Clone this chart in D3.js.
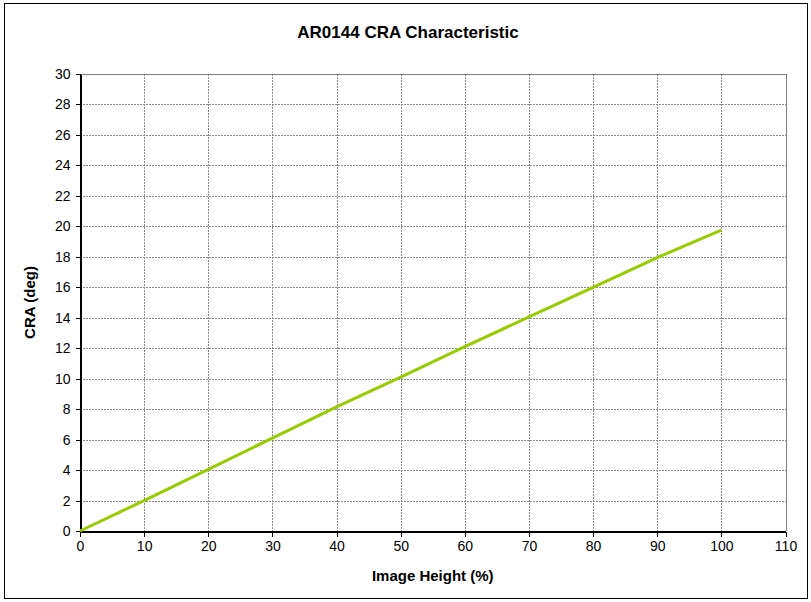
<!DOCTYPE html>
<html>
<head>
<meta charset="utf-8">
<script src="https://cdn.jsdelivr.net/npm/d3@7"></script>
<style>
  body { margin: 0; background: #fff; }
  svg { display: block; font-family: Arial, "Liberation Sans", sans-serif; }
  .grid line { stroke: #8a8a8a; stroke-dasharray: 2,1; shape-rendering: crispEdges; }
  .axis path, .axis line { stroke: #000; shape-rendering: crispEdges; }
  .axis text { font-size: 14px; fill: #000; }
</style>
</head>
<body>
<div id="chart"></div>
<script>
// series: image height (%) -> chief ray angle (deg)
const imageHeight = [0, 10, 20, 30, 40, 50, 60, 70, 80, 90, 100];
const craDeg = [0, 2.0, 4.05, 6.1, 8.15, 10.1, 12.1, 14.05, 16.0, 17.95, 19.75];

const xTicks = d3.range(0, 111, 10);
const yTicks = d3.range(0, 31, 2);

const titleText = "AR0144 CRA Characteristic";
const xLabel = "Image Height (%)";
const yLabel = "CRA (deg)";

const width = 811, height = 602;
const margin = { top: 74, right: 25, bottom: 71, left: 80 };

const svg = d3.select("#chart")
    .append("svg")
    .attr("width", width)
    .attr("height", height);

// outer frame
svg.append("rect")
    .attr("x", 4.5).attr("y", 3.5)
    .attr("width", 803).attr("height", 595)
    .attr("fill", "#fff")
    .attr("stroke", "#000")
    .attr("stroke-width", 1);

const x = d3.scaleLinear()
    .domain([0, 110])
    .range([margin.left, width - margin.right - 0.5]);

const y = d3.scaleLinear()
    .domain([0, 30])
    .range([height - margin.bottom, margin.top]);

// grid
const grid = svg.append("g").attr("class", "grid");
grid.selectAll(".vg")
    .data(xTicks.slice(1))
    .enter().append("line")
    .attr("x1", (d) => Math.round(x(d)) + 0.5)
    .attr("x2", (d) => Math.round(x(d)) + 0.5)
    .attr("y1", y(30))
    .attr("y2", y(0));
grid.selectAll(".hg")
    .data(yTicks.slice(1))
    .enter().append("line")
    .attr("x1", x(0))
    .attr("x2", x(110))
    .attr("y1", (d) => Math.round(y(d)) + 0.5)
    .attr("y2", (d) => Math.round(y(d)) + 0.5);

// plot border top/right
svg.append("path")
    .attr("d", `M${x(0)},${Math.round(y(30)) + 0.5}H${Math.round(x(110)) + 0.5}V${y(0)}`)
    .attr("fill", "none")
    .attr("stroke", "#808080")
    .attr("shape-rendering", "crispEdges");

// axes
svg.append("g")
    .attr("class", "axis")
    .attr("transform", `translate(0,${Math.round(y(0)) + 0.5})`)
    .call(d3.axisBottom(x).tickValues(xTicks).tickSize(5).tickSizeOuter(0).tickPadding(5))
    .call((g) => g.select(".domain").attr("stroke-width", 1.5));

svg.append("g")
    .attr("class", "axis")
    .attr("transform", `translate(${Math.round(x(0)) + 0.5},0)`)
    .call(d3.axisLeft(y).tickValues(yTicks).tickSize(5).tickSizeOuter(0).tickPadding(5))
    .call((g) => g.select(".domain").attr("stroke-width", 1.5));

// series line
const line = d3.line()
    .x((d, i) => x(imageHeight[i]))
    .y((d) => y(d));

svg.append("path")
    .datum(craDeg)
    .attr("fill", "none")
    .attr("stroke", "#99CC00")
    .attr("stroke-width", 3)
    .attr("d", line);

// texts
svg.append("text")
    .attr("x", 408)
    .attr("y", 38)
    .attr("text-anchor", "middle")
    .attr("font-size", "17px")
    .attr("font-weight", "bold")
    .text(titleText);

svg.append("text")
    .attr("x", (x(0) + x(110)) / 2)
    .attr("y", 581)
    .attr("text-anchor", "middle")
    .attr("font-size", "15px")
    .attr("font-weight", "bold")
    .text(xLabel);

svg.append("text")
    .attr("transform", `translate(35,${(y(0) + y(30)) / 2}) rotate(-90)`)
    .attr("text-anchor", "middle")
    .attr("font-size", "15px")
    .attr("font-weight", "bold")
    .text(yLabel);
</script>
</body>
</html>
